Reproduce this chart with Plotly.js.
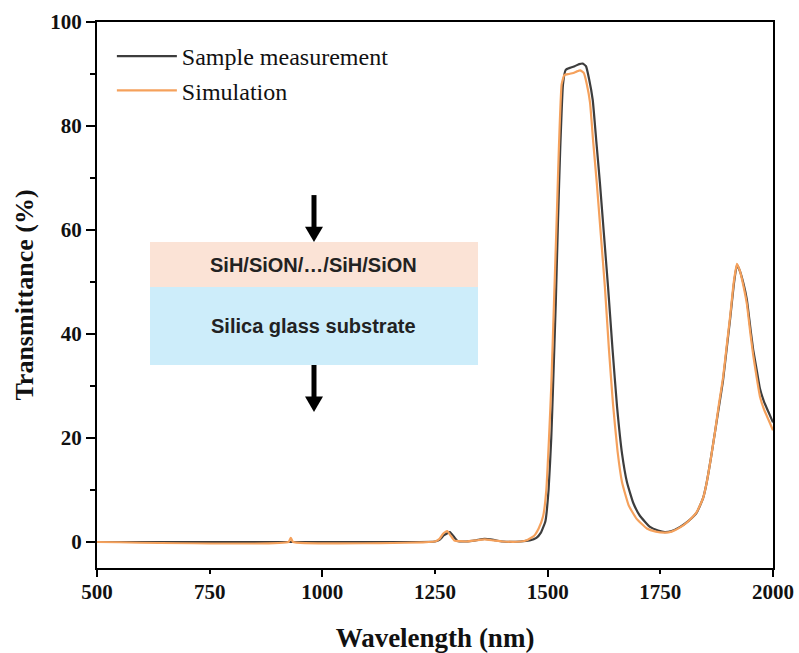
<!DOCTYPE html>
<html>
<head>
<meta charset="utf-8">
<script src="https://cdn.plot.ly/plotly-3.0.1.min.js"></script>
<style>html,body{margin:0;padding:0;background:#fff;}#chart{width:799px;height:653px;}</style>
</head>
<body>
<div id="chart"></div>
<script>
// Sample measurement (black)
const measWavelength = [500, 900, 1000, 1200, 1250, 1260, 1270, 1283, 1292, 1300, 1320, 1340, 1360, 1380, 1400, 1440, 1460, 1475, 1485, 1495, 1502, 1508, 1512, 1518, 1523, 1528, 1534, 1540, 1550, 1560, 1570, 1578, 1585, 1592, 1600, 1608, 1616, 1625, 1634, 1644, 1654, 1665, 1676, 1690, 1705, 1727, 1745, 1760, 1775, 1794, 1812, 1831, 1845, 1853, 1862, 1871, 1880, 1889, 1897, 1905, 1913, 1920, 1927, 1935, 1942, 1950, 1956, 1964, 1971, 1980, 1990, 2000];
const measT = [0, 0, 0, 0, 0.1, 0.4, 1.3, 1.9, 1.0, 0.2, 0.1, 0.3, 0.6, 0.4, 0.1, 0.1, 0.3, 0.8, 1.8, 4, 10, 20, 30, 46, 62, 76, 88, 90.8, 91.2, 91.5, 91.9, 92, 91.5, 89, 85, 77, 69, 59, 49, 37, 26, 17, 11.5, 7.5, 5, 2.9, 2.2, 1.9, 2.1, 2.9, 4, 5.7, 8.5, 11.5, 16, 21, 26, 31, 37, 43, 49.5, 53.3, 52, 49.5, 46.6, 41, 37, 33, 29.5, 27, 25, 23];

// Simulation (orange)
const simWavelength = [500, 925, 930, 935, 1250, 1260, 1268, 1277, 1285, 1293, 1320, 1340, 1360, 1380, 1400, 1440, 1455, 1470, 1480, 1490, 1497, 1503, 1508, 1514, 1520, 1525, 1531, 1537, 1547, 1557, 1565, 1572, 1580, 1587, 1594, 1601, 1609, 1618, 1627, 1636, 1645, 1655, 1665, 1680, 1697, 1720, 1740, 1760, 1775, 1794, 1812, 1831, 1845, 1853, 1862, 1871, 1880, 1889, 1897, 1905, 1913, 1920, 1927, 1935, 1942, 1950, 1956, 1964, 1971, 1980, 1990, 2000];
const simT = [0, 0, 0.8, 0, 0.1, 0.6, 1.6, 2.1, 1.2, 0.3, 0.1, 0.3, 0.5, 0.3, 0.1, 0.1, 0.4, 1.2, 2.6, 5, 10, 20, 30, 46, 62, 76, 88, 89.8, 90, 90.2, 90.5, 90.7, 90.2, 88, 84.5, 77, 69, 59, 49, 37, 26.5, 17.5, 11.5, 7, 4.5, 2.6, 2, 1.8, 2, 2.8, 4, 5.8, 8.5, 11.5, 16, 21, 26.5, 31.5, 37.5, 43.5, 50, 53.5, 52, 49, 45.8, 40, 36, 31.5, 28, 25.5, 23.5, 21.5];

const seriesNames = ["Sample measurement", "Simulation"];
const xTicks = [500, 750, 1000, 1250, 1500, 1750, 2000];
const xMajorTicks = [500, 1000, 1500, 2000];
const yTicks = [0, 20, 40, 60, 80, 100];
const yMinorTicks = [10, 30, 50, 70, 90];
const layerLabels = ["SiH/SiON/…/SiH/SiON", "Silica glass substrate"];

const traces = [
  {x: measWavelength, y: measT, name: seriesNames[0], type: 'scatter', mode: 'lines',
   line: {color: '#3d3d3d', width: 2.2, shape: 'spline', smoothing: 0.4}},
  {x: simWavelength, y: simT, name: seriesNames[1], type: 'scatter', mode: 'lines',
   line: {color: '#f5a15c', width: 2.2, shape: 'spline', smoothing: 0.4}}
];

const serif = 'Liberation Serif, Times New Roman, serif';
const sans = 'Liberation Sans, Arial, sans-serif';

// inset geometry (paper coords)
const ax = 0.321;
const hw = 0.0133;
const shapes = [
  {type: 'rect', xref: 'paper', yref: 'paper', x0: 0.0784, x1: 0.5636, y0: 0.5147, y1: 0.597,
   fillcolor: '#fbe3d6', line: {width: 0}, layer: 'below'},
  {type: 'rect', xref: 'paper', yref: 'paper', x0: 0.0784, x1: 0.5636, y0: 0.3718, y1: 0.5147,
   fillcolor: '#cdedfa', line: {width: 0}, layer: 'below'},
  {type: 'line', xref: 'paper', yref: 'paper', x0: ax, x1: ax, y0: 0.683, y1: 0.62,
   line: {color: '#000', width: 5}},
  {type: 'path', xref: 'paper', yref: 'paper',
   path: `M${ax-hw},0.625 L${ax+hw},0.625 L${ax},0.597 Z`, fillcolor: '#000', line: {width: 0}},
  {type: 'line', xref: 'paper', yref: 'paper', x0: ax, x1: ax, y0: 0.3718, y1: 0.31,
   line: {color: '#000', width: 5}},
  {type: 'path', xref: 'paper', yref: 'paper',
   path: `M${ax-hw},0.314 L${ax+hw},0.314 L${ax},0.2857 Z`, fillcolor: '#000', line: {width: 0}}
];

const annotations = [
  {xref: 'paper', yref: 'paper', x: ax, y: 0.555, xanchor: 'center', yanchor: 'middle',
   text: '<b>' + layerLabels[0] + '</b>', showarrow: false, font: {family: sans, size: 20, color: '#222'}},
  {xref: 'paper', yref: 'paper', x: ax, y: 0.443, xanchor: 'center', yanchor: 'middle',
   text: '<b>' + layerLabels[1] + '</b>', showarrow: false, font: {family: sans, size: 20, color: '#222'}}
];

const layout = {
  width: 799, height: 653,
  margin: {l: 97, r: 26, t: 22, b: 85},
  paper_bgcolor: '#fff', plot_bgcolor: '#fff',
  showlegend: true,
  legend: {x: 0.022, y: 0.978, xanchor: 'left', yanchor: 'top', bgcolor: 'rgba(0,0,0,0)',
    font: {family: serif, size: 24, color: '#111'}, itemwidth: 60, tracegroupgap: 0},
  xaxis: {
    range: [500, 2000], tickvals: xTicks, ticktext: xTicks.map(String),
    showgrid: false, zeroline: false, showline: true, linecolor: '#000', linewidth: 2, mirror: true,
    ticks: 'outside', ticklen: 4, tickwidth: 2, tickcolor: '#000',
    tickfont: {family: serif, size: 21, color: '#111', weight: 'bold'},
    title: {text: '<b>Wavelength (nm)</b>', font: {family: serif, size: 27, color: '#111'}, standoff: 26}
  },
  xaxis2: {
    overlaying: 'x', matches: 'x', side: 'bottom', anchor: 'y',
    tickvals: xMajorTicks, showticklabels: false,
    showgrid: false, zeroline: false, showline: false,
    ticks: 'outside', ticklen: 8, tickwidth: 2, tickcolor: '#000'
  },
  yaxis: {
    range: [-5, 100], tickvals: yTicks, ticktext: yTicks.map(String),
    showgrid: false, zeroline: false, showline: true, linecolor: '#000', linewidth: 2, mirror: true,
    ticks: 'outside', ticklen: 9, tickwidth: 2, tickcolor: '#000',
    minor: {tickvals: yMinorTicks, ticks: 'outside', ticklen: 5, tickwidth: 2, tickcolor: '#000'},
    tickfont: {family: serif, size: 21, color: '#111', weight: 'bold'},
    title: {text: '<b>Transmittance (%)</b>', font: {family: serif, size: 26, color: '#111'}, standoff: 9}
  },
  shapes: shapes,
  annotations: annotations
};

// invisible helper trace on the overlay axis so its major ticks get drawn
traces.push({x: [xMajorTicks[0]], y: [yTicks[0]], xaxis: 'x2', yaxis: 'y', type: 'scatter', mode: 'markers',
  marker: {opacity: 0}, showlegend: false, hoverinfo: 'skip'});

Plotly.newPlot('chart', traces, layout, {displayModeBar: false, staticPlot: true});
</script>
</body>
</html>
